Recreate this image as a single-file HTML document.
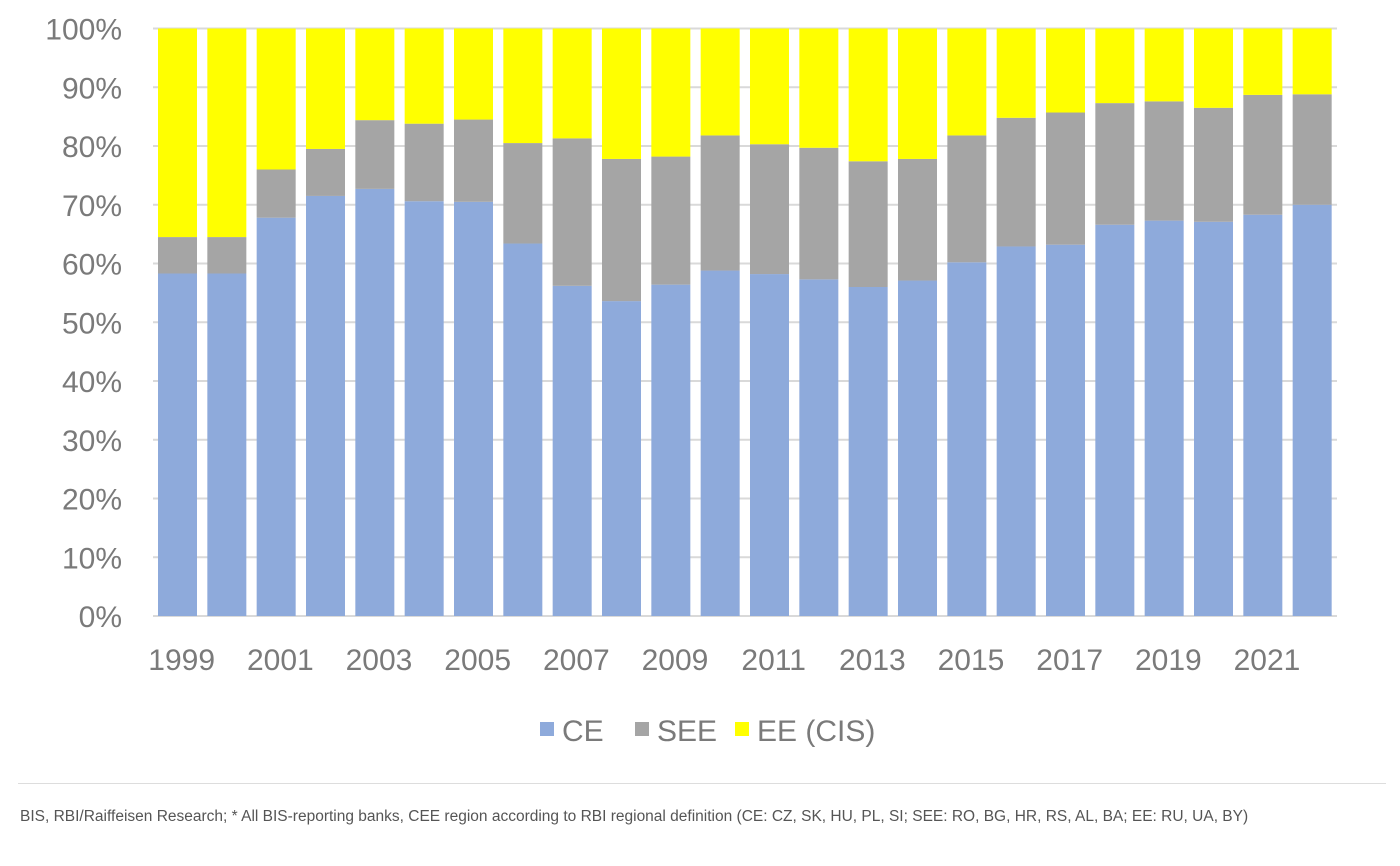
<!DOCTYPE html>
<html><head><meta charset="utf-8"><style>
body{margin:0;background:#fff;width:1400px;height:866px;overflow:hidden;font-family:"Liberation Sans",sans-serif}
#foot{position:absolute;left:20px;top:805px;font-size:15.5px;color:#555;line-height:24px;width:1370px}
#sep{position:absolute;left:18px;top:783px;width:1368px;height:1px;background:#ddd}
</style></head><body>
<svg id="chart" width="1400" height="780" style="position:absolute;left:0;top:0"></svg>
<div id="sep"></div>
<div id="foot">BIS, RBI/Raiffeisen Research; * All BIS-reporting banks, CEE region according to RBI regional definition (CE: CZ, SK, HU, PL, SI; SEE: RO, BG, HR, RS, AL, BA; EE: RU, UA, BY)</div>
<script>
const years=[1999,2000,2001,2002,2003,2004,2005,2006,2007,2008,2009,2010,2011,2012,2013,2014,2015,2016,2017,2018,2019,2020,2021,2022];
const ce=[58.3,58.3,67.8,71.5,72.7,70.6,70.5,63.4,56.2,53.6,56.4,58.8,58.2,57.3,56.0,57.1,60.2,62.9,63.2,66.6,67.3,67.1,68.3,70.0];
const see=[6.2,6.2,8.2,8.0,11.7,13.2,14.0,17.1,25.1,24.2,21.8,23.0,22.1,22.4,21.4,20.7,21.6,21.9,22.5,20.7,20.3,19.4,20.4,18.8];
const eeCis=years.map((y,i)=>100-ce[i]-see[i]);
const yTicks=[0,10,20,30,40,50,60,70,80,90,100];
const xLabels=[1999,2001,2003,2005,2007,2009,2011,2013,2015,2017,2019,2021];
const NS="http://www.w3.org/2000/svg",svg=document.getElementById('chart');
const L=153,R=1337,T=28.5,B=616;
const band=(R-L)/years.length;
const xs=i=>L+band*i;
const ys=v=>B-(B-T)*v/100;
function mk(t,a){const e=document.createElementNS(NS,t);for(const k in a)e.setAttribute(k,a[k]);svg.appendChild(e);return e;}
yTicks.forEach(v=>{
  const g=mk('line',{x1:L,x2:R,y1:ys(v),y2:ys(v),stroke:'#d9d9d9','stroke-width':2});
  
  
  const t=mk('text',{x:122,y:ys(v)+11,'text-anchor':'end','font-size':30,fill:'#7a7a7a','font-family':'Liberation Sans, sans-serif'});
  t.textContent=v+'%';
  
  
});
const series=[[ce,'#8eaadb','ce'],[see,'#a5a5a5','see'],[eeCis,'#ffff00','ee-cis']];
years.forEach((y,i)=>{
  let base=0;
  series.forEach(([arr,c,n])=>{
    const v=arr[i];
    const r=mk('rect',{x:xs(i)+5,width:39,y:ys(base+v),height:ys(base)-ys(base+v),fill:c});
    
    
    base+=v;
  });
});
xLabels.forEach(y=>{
  const i=years.indexOf(y);
  const t=mk('text',{x:xs(i)+band/2+4,y:670,'text-anchor':'middle','font-size':30,fill:'#7a7a7a','font-family':'Liberation Sans, sans-serif'});
  t.textContent=y;
  
  
});
const leg=[['CE','#8eaadb',540],['SEE','#a5a5a5',635],['EE (CIS)','#ffff00',735]];
leg.forEach(([n,c,x])=>{
  const r=mk('rect',{x:x,y:722,width:14,height:14,fill:c});
  
  
  const t=mk('text',{x:x+22,y:741,'font-size':30,fill:'#7a7a7a','font-family':'Liberation Sans, sans-serif'});
  t.textContent=n;
  
  
});
</script>
</body></html>
